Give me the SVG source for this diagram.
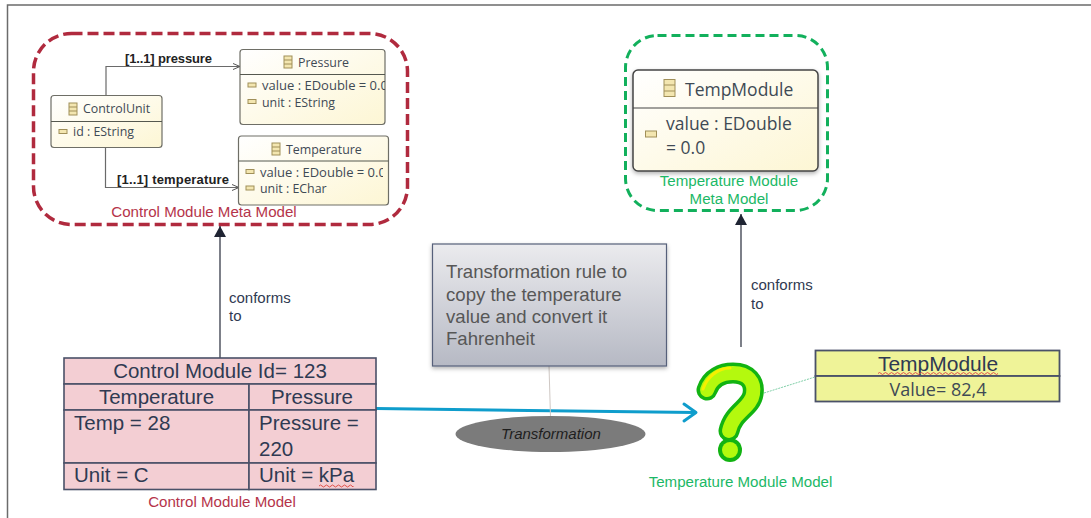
<svg xmlns="http://www.w3.org/2000/svg" width="1091" height="518" viewBox="0 0 1091 518">
<style>
text{font-family:"Liberation Sans",Arial,sans-serif}
.t{font-family:"Open Sans","Liberation Sans",sans-serif;fill:#3f4a55}
.cls{fill:url(#cream);stroke:#6e6e66;stroke-width:1.2}
.sep{stroke:#55584f;stroke-width:1}
.ic{fill:#f3e6b0;stroke:#a08f58;stroke-width:1}
.s{font-size:12.4px}
.v{font-size:13px}
.b{font-size:13px;font-weight:bold;fill:#222}
.cell{fill:#f3ced3;stroke:#4a5168;stroke-width:1.6}
.pk{font-size:20.500px;fill:#2f3a52}
.lab{font-size:15.100px}
.red{fill:#b5344a}
.grn{fill:#1cb866}
.conn{fill:none;stroke:#6a6a6a;stroke-width:1.2}
.dk{stroke:#262b3a;stroke-width:1.2;fill:none}
.cf{font-size:15px;fill:#2f3a52}
</style>
<defs>
<linearGradient id="cream" x1="0" y1="0" x2="1" y2="1"><stop offset="0" stop-color="#ffffff"/><stop offset="1" stop-color="#fdf6d4"/></linearGradient>
<linearGradient id="gr" x1="0" y1="0" x2="0" y2="1"><stop offset="0" stop-color="#ebebee"/><stop offset="1" stop-color="#b6b9c4"/></linearGradient>
<marker id="open" markerWidth="9" markerHeight="9" refX="8" refY="4" orient="auto" markerUnits="userSpaceOnUse"><path d="M1 1L8 4L1 7" fill="none" stroke="#555" stroke-width="1"/></marker>
<marker id="solid" markerWidth="14" markerHeight="14" refX="11" refY="6" orient="auto" markerUnits="userSpaceOnUse"><path d="M0 0L11 6L0 12Z" fill="#1f2433"/></marker>
<filter id="sh" x="-10%" y="-10%" width="120%" height="120%"><feDropShadow dx="0" dy="2" stdDeviation="2" flood-color="#000" flood-opacity=".3"/></filter>
<clipPath id="cp"><rect x="240" y="49" width="145" height="75"/></clipPath>
<clipPath id="ct"><rect x="238" y="136" width="145" height="69"/></clipPath>
</defs>
<rect width="1091" height="518" fill="#fff"/>
<path d="M7.500 518V5H1091" fill="none" stroke="#6b6b6b" stroke-width="1.500"/>

<g id="control-meta-frame">
<rect x="33.500" y="33.500" width="374" height="191" rx="38" fill="none" stroke="#b02a3e" stroke-width="3.500" stroke-dasharray="11 5"/>
<text x="204" y="217" text-anchor="middle" class="lab red">Control Module Meta Model</text>
</g>
<g id="connectors">
<path class="conn" d="M106 95V66.500H240" marker-end="url(#open)"/>
<path class="conn" d="M105.500 147V187.500H239" marker-end="url(#open)"/>
<path class="dk" d="M220 358V226" marker-end="url(#solid)"/>
<path class="dk" d="M741 347V214" marker-end="url(#solid)"/>
<path d="M376 408.500L695 412.500" fill="none" stroke="#0f9dcc" stroke-width="3"/>
<path d="M684 404L696 412.500L684 421" fill="none" stroke="#0f9dcc" stroke-width="3" stroke-linecap="round" stroke-linejoin="round"/>
<path d="M549 366L550.500 417" fill="none" stroke="#cfc8c4" stroke-width="1"/>
<path d="M764 393L815 377" fill="none" stroke="#7fcfa8" stroke-width="1" stroke-dasharray="2 1"/>
</g>
<text x="125" y="63" class="b" textLength="87">[1..1] pressure</text>
<text x="117" y="184" class="b" textLength="112">[1..1] temperature</text>

<g id="ControlUnit">
<rect class="cls" x="51" y="95.500" width="111" height="52" rx="3"/>
<path class="sep" d="M51 121.500H162"/>
<rect class="ic" x="69" y="103" width="8" height="12"/><path class="ic" d="M69 107H77M69 111H77"/>
<text x="83" y="113" class="t s">ControlUnit</text>
<rect class="ic" x="59" y="129.500" width="8" height="4"/>
<text x="73" y="136" class="t s">id : EString</text>
</g>
<g id="Pressure">
<rect class="cls" x="240" y="49.500" width="145" height="75" rx="3"/>
<path class="sep" d="M240 74.500H385"/>
<rect class="ic" x="284" y="56" width="8" height="12"/><path class="ic" d="M284 60H292M284 64H292"/>
<text x="298" y="67" class="t s">Pressure</text>
<rect class="ic" x="248" y="83" width="8" height="4"/>
<text x="262" y="90" class="t v" clip-path="url(#cp)">value : EDouble = 0.0</text>
<rect class="ic" x="248" y="99.500" width="8" height="4"/>
<text x="262" y="107" class="t s">unit : EString</text>
</g>
<g id="Temperature">
<rect class="cls" x="238.500" y="136" width="150" height="69" rx="3"/>
<path class="sep" d="M238.500 161H388.500"/>
<rect class="ic" x="272" y="143" width="8" height="12"/><path class="ic" d="M272 147H280M272 151H280"/>
<text x="286" y="154" class="t s">Temperature</text>
<rect class="ic" x="246" y="169.500" width="8" height="4"/>
<text x="260" y="177" class="t v" clip-path="url(#ct)">value : EDouble = 0.0</text>
<rect class="ic" x="246" y="186" width="8" height="4"/>
<text x="260" y="193" class="t s">unit : EChar</text>
</g>

<g id="temp-meta">
<rect x="625.500" y="35.500" width="202" height="175" rx="32" fill="none" stroke="#12b05c" stroke-width="3" stroke-dasharray="9 5"/>
<rect x="633" y="70" width="185" height="101" rx="5" fill="url(#cream)" stroke="#444" stroke-width="1.500" filter="url(#sh)"/>
<path d="M633 108H818" stroke="#444" stroke-width="1.200"/>
<rect class="ic" x="664" y="79.500" width="11" height="17"/><path class="ic" d="M664 85H675M664 91H675"/>
<text x="685" y="96" font-size="17.500" class="t">TempModule</text>
<rect class="ic" x="645.500" y="131" width="11" height="6"/>
<text x="666" y="130" font-size="17.500" class="t">value : EDouble</text>
<text x="666" y="154" font-size="17.500" class="t">= 0.0</text>
<text x="729" y="186" text-anchor="middle" class="lab grn">Temperature Module</text>
<text x="729" y="204" text-anchor="middle" class="lab grn">Meta Model</text>
</g>

<g id="rule-note">
<rect x="432.500" y="244" width="234" height="122" fill="url(#gr)" stroke="#56607a" stroke-width="1.200" filter="url(#sh)"/>
<text font-size="18.600" fill="#575757"><tspan x="446" y="278">Transformation rule to</tspan><tspan x="446" y="301">copy the temperature</tspan><tspan x="446" y="323">value and convert it</tspan><tspan x="446" y="345">Fahrenheit</tspan></text>
</g>
<g id="transformation">
<ellipse cx="550.500" cy="434" rx="95" ry="18" fill="#7b7b7b"/>
<text x="551" y="439" font-size="15" font-style="italic" text-anchor="middle" fill="#1e1e1e">Transformation</text>
</g>

<g id="control-model">
<rect class="cell" x="64" y="358" width="312" height="26"/>
<rect class="cell" x="64" y="384" width="185" height="26"/>
<rect class="cell" x="249" y="384" width="127" height="26"/>
<rect class="cell" x="64" y="410" width="185" height="53"/>
<rect class="cell" x="249" y="410" width="127" height="53"/>
<rect class="cell" x="64" y="463" width="185" height="26.500"/>
<rect class="cell" x="249" y="463" width="127" height="26.500"/>
<text x="220" y="378" text-anchor="middle" class="pk">Control Module Id= 123</text>
<text x="156.500" y="404" text-anchor="middle" class="pk">Temperature</text>
<text x="312" y="404" text-anchor="middle" class="pk">Pressure</text>
<text x="74" y="430" class="pk">Temp = 28</text>
<text x="259" y="430" class="pk">Pressure =</text>
<text x="259" y="456" class="pk">220</text>
<text x="74" y="482" class="pk">Unit = C</text>
<text x="259" y="482" class="pk">Unit = kPa</text>
<path d="M319 486q1.500 -2 3 0t3 0t3 0t3 0t3 0t3 0t3 0t3 0t3 0t3 0t3 0t1 0" fill="none" stroke="#e0504a" stroke-width="1"/>
<text x="222" y="507" text-anchor="middle" class="lab red">Control Module Model</text>
</g>

<g id="temp-model">
<path d="M707 390C711 378 722 373 733 373C748 373 755 382 753 394C751 408 733 412 729 431" fill="none" stroke="#12b312" stroke-width="21" stroke-linecap="round"/>
<circle cx="730" cy="450" r="12" fill="#12b312"/>
<path d="M707 390C711 378 722 373 733 373C748 373 755 382 753 394C751 408 733 412 729 431" fill="none" stroke="#b4f90e" stroke-width="14" stroke-linecap="round"/>
<circle cx="730" cy="450" r="8" fill="#b4f90e"/>
<path d="M703 389C707 377 718 368 730 368" fill="none" stroke="#f5f000" stroke-width="3" stroke-linecap="round"/>
<text x="740.500" y="487" text-anchor="middle" class="lab grn">Temperature Module Model</text>
</g>

<g id="TempModule-instance">
<rect x="815.500" y="350.500" width="244" height="25.500" fill="#eff398" stroke="#4a5168" stroke-width="1.800"/>
<rect x="815.500" y="376" width="244" height="25.500" fill="#eff398" stroke="#4a5168" stroke-width="1.800"/>
<text x="938" y="371" font-size="21" text-anchor="middle" fill="#2f3a52">TempModule</text>
<path d="M878 373.500q1.500 -2 3 0t3 0t3 0t3 0t3 0t3 0t3 0t3 0t3 0t3 0t3 0t3 0t3 0t3 0t3 0t3 0t3 0t3 0t3 0t3 0t3 0t3 0t3 0t3 0t3 0t3 0t3 0t3 0t3 0t3 0t3 0t3 0t3 0t3 0t3 0t3 0t3 0t3 0t3 0t3 0" fill="none" stroke="#e0504a" stroke-width="1"/>
<text x="938" y="396" font-size="18" text-anchor="middle" class="t">Value= 82,4</text>
</g>

<text x="229" y="303" class="cf">conforms</text>
<text x="229" y="321" class="cf">to</text>
<text x="751" y="290" class="cf">conforms</text>
<text x="751" y="309" class="cf">to</text>
</svg>
